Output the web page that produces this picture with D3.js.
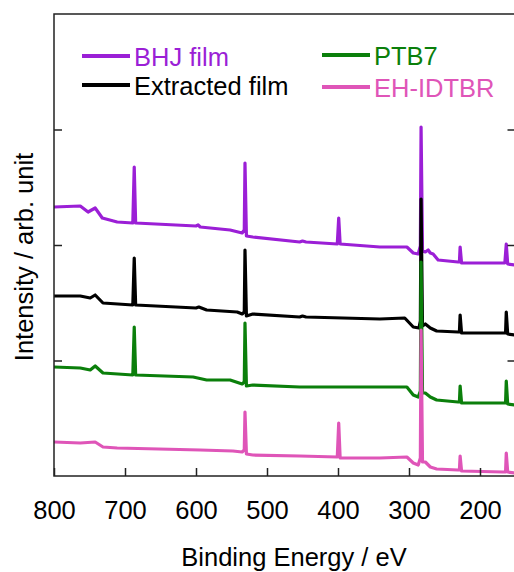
<!DOCTYPE html>
<html>
<head>
<meta charset="utf-8">
<script src="https://cdn.jsdelivr.net/npm/d3@7"></script>
<style>
  body { margin: 0; background: #fff; }
  svg { font-family: "Liberation Sans", Arial, sans-serif; }
</style>
</head>
<body>
<div id="chart"></div>
<script>
// binding energy (eV) vs intensity (arb. units, offset per curve)
var bhj = [[800,269],[763,270],[752,264],[742,268],[732,258],[711,254],[689,253],[687,309],[685,253],[600,250],[597,251],[594,249],[552,246],[535,243],[532,246],[531,313],[529,240],[520,239],[454,234],[450,235],[445,234],[401,232],[399,258],[397,232],[341,229],[303,229],[294,223],[287,222],[284,230],[283,349],[281,225],[277,224],[273,226],[270,223],[266,222],[259,216],[231,214],[229,214],[228,229],[226,213],[168,213],[165,213],[163,232],[161,212],[150,211]];
var extracted = [[800,180],[763,180],[749,178],[742,181],[731,173],[689,171],[687,218],[685,171],[600,168],[596,169],[585,166],[542,164],[535,162],[532,164],[531,226],[529,160],[520,162],[454,159],[450,160],[445,159],[341,157],[306,158],[294,149],[286,148],[284,155],[283,277],[281,150],[277,152],[270,148],[261,145],[231,144],[229,144],[228,161],[226,143],[168,143],[164,143],[163,164],[161,142],[150,141]];
var ptb7 = [[800,109],[763,108],[749,106],[742,110],[731,103],[689,101],[687,149],[685,101],[604,99],[585,96],[552,96],[535,92],[532,94],[531,153],[529,90],[520,91],[454,89],[341,89],[303,89],[294,81],[287,79],[284,85],[283,214],[281,83],[277,83],[270,79],[261,76],[231,74],[229,74],[228,90],[226,73],[168,73],[164,73],[163,95],[161,72],[150,71]];
var ehidtbr = [[800,34],[763,33],[742,34],[731,29],[711,28],[594,26],[548,25],[535,24],[532,26],[531,64],[529,22],[520,21],[454,20],[401,19],[399,53],[397,18],[341,18],[303,19],[294,13],[287,11],[284,18],[283,146],[281,14],[277,14],[270,9],[261,7],[231,6],[229,6],[228,20],[226,5],[168,4],[164,4],[163,23],[161,4],[150,3]];

var names = ["BHJ film", "Extracted film", "PTB7", "EH-IDTBR"];
var colors = ["#9b1fd6", "#000000", "#0b7f0b", "#df55b8"];
var xTicks = [800, 700, 600, 500, 400, 300, 200];
var yTicks = [115.5, 231, 346.5];

var width = 514, height = 572,
margin = {top: 14, left: 54, bottom: 96, right: -1.5}

var svg = d3.select("#chart").append("svg")
  .attr("width", width)
  .attr("height", height)

var x = d3.scaleLinear().domain([800, 150]).range([margin.left, width - margin.right])
var y = d3.scaleLinear().domain([0, 462]).range([height - margin.bottom, margin.top])

svg.append("clipPath").attr("id", "clip")
  .append("rect")
  .attr("x", x(800)).attr("y", y(462))
  .attr("width", x(150) - x(800)).attr("height", y(0) - y(462))

var line = d3.line()
  .x(function(d) { return x(d[0]); })
  .y(function(d) { return y(d[1]); })

var series = [bhj, extracted, ptb7, ehidtbr]
svg.append("g").attr("clip-path", "url(#clip)")
  .selectAll("path")
  .data(series)
  .enter().append("path")
    .attr("d", line)
    .attr("fill", "none")
    .attr("stroke", function(d, i) { return colors[i]; })
    .attr("stroke-width", 3.2)
    .attr("stroke-linejoin", "round")

// axes
var xAxis = svg.append("g")
  .attr("transform", "translate(0," + y(0) + ")")
  .call(d3.axisBottom(x).tickValues(xTicks).tickSizeInner(-8).tickSizeOuter(0).tickPadding(25))
xAxis.selectAll("text").attr("font-size", 25.5).attr("fill", "#000").attr("font-family", "Liberation Sans, Arial, sans-serif")

var yAxis = svg.append("g")
  .attr("transform", "translate(" + x(800) + ",0)")
  .call(d3.axisLeft(y).tickValues(yTicks).tickSizeInner(-8).tickSizeOuter(0).tickFormat(""))
var yAxisR = svg.append("g")
  .attr("transform", "translate(" + x(150) + ",0)")
  .call(d3.axisRight(y).tickValues(yTicks).tickSizeInner(-8).tickSizeOuter(0).tickFormat(""))

svg.selectAll(".domain").remove()
svg.selectAll(".tick line").attr("stroke", "#222").attr("stroke-width", 1.5)

svg.append("rect")
  .attr("x", x(800)).attr("y", y(462))
  .attr("width", x(150) - x(800)).attr("height", y(0) - y(462))
  .attr("fill", "none")
  .attr("stroke", "#222")
  .attr("stroke-width", 1.5)

svg.append("text")
  .attr("x", 294).attr("y", 566)
  .attr("text-anchor", "middle")
  .attr("font-size", 25.5)
  .text("Binding Energy / eV")

svg.append("text")
  .attr("transform", "translate(33,257) rotate(-90)")
  .attr("text-anchor", "middle")
  .attr("font-size", 25.5)
  .text("Intensity / arb. unit")

// legend
var legendPos = [[82, 56], [82, 85], [322, 55], [322, 87]]
var legend = svg.selectAll(".legend")
  .data(names)
  .enter().append("g")
    .attr("class", "legend")
    .attr("transform", function(d, i) { return "translate(" + legendPos[i][0] + "," + legendPos[i][1] + ")"; })
legend.append("line")
  .attr("x1", 0).attr("x2", 48)
  .attr("stroke", function(d, i) { return colors[i]; })
  .attr("stroke-width", 4)
legend.append("text")
  .attr("x", 52).attr("y", 10)
  .attr("font-size", 25.5)
  .attr("fill", function(d, i) { return colors[i]; })
  .text(function(d) { return d; })
</script>
</body>
</html>
